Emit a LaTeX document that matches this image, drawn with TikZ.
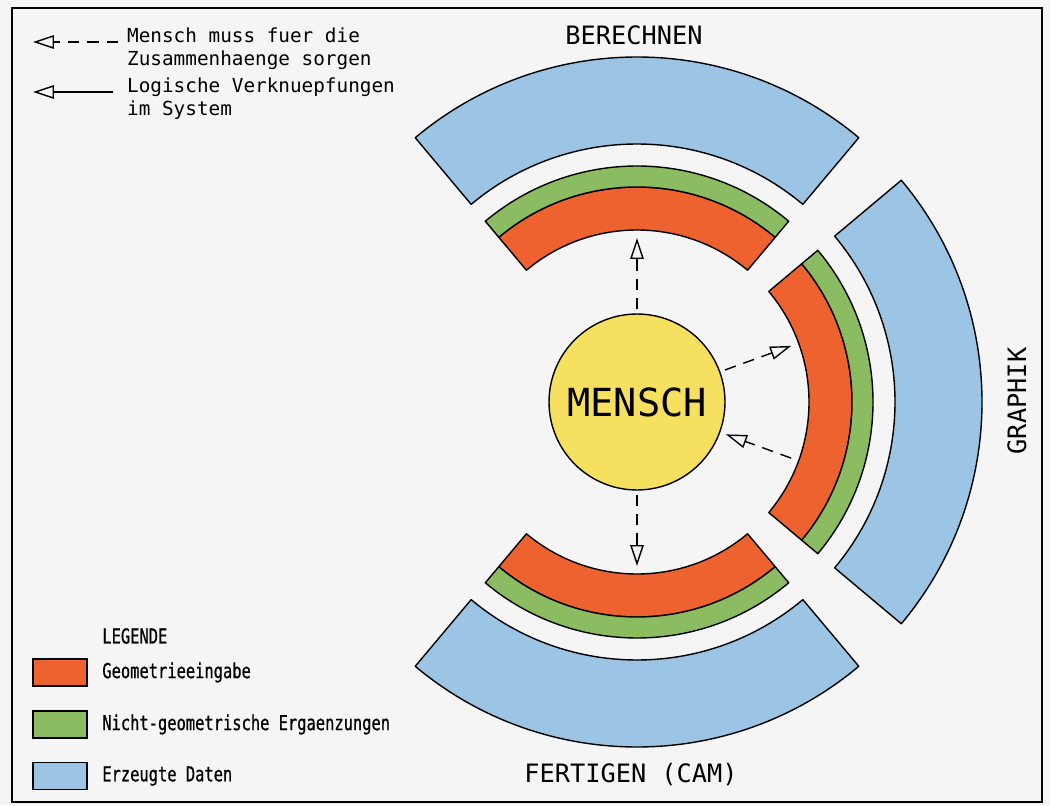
\documentclass[tikz,border=0pt]{standalone}
\usepackage{fontspec}
\setmainfont{DejaVu Sans Mono}
\newfontfamily\legfont[FakeStretch=0.75, FakeBold=0.6]{DejaVu Sans Mono}
\usetikzlibrary{arrows.meta}
\definecolor{geoC}{RGB}{238,98,48}
\definecolor{ergC}{RGB}{140,188,98}
\definecolor{datC}{RGB}{156,197,229}
\definecolor{menC}{RGB}{245,224,96}
\definecolor{paperC}{RGB}{245,245,245}
\tikzset{
  seg/.style={draw=black, line width=0.8pt, line join=round},
  flow/.style={line width=0.8pt, -{Triangle[open,length=0.42cm,width=0.27cm]}},
  hint/.style={flow, dash pattern=on 6.5pt off 4.5pt},
  legbox/.style={draw, line width=0.8pt, minimum width=1.08cm, minimum height=0.54cm, inner sep=0pt},
  legtext/.style={anchor=west, inner sep=0pt, font=\legfont\fontsize{11.7}{14}\selectfont},
  title/.style={font=\fontsize{14.4}{17}\selectfont},
  note/.style={anchor=west, align=left, font=\fontsize{11}{13}\selectfont}
}
\begin{document}
\begin{tikzpicture}[x=0.02cm,y=0.02cm]
    \fill[paperC] (0,0) rectangle (1050,805);
    \useasboundingbox (0,0) rectangle (1050,805);
    \draw[line width=1.6pt] (12,3) rectangle (1042,797);
    \begin{scope}[shift={(637,403)}]
        \foreach \a in {90,0,-90} {
            \filldraw[seg, fill=geoC] ({\a-40}:172) arc[start angle=\a-40, end angle=\a+40, radius=172]
                -- ({\a+40}:215) arc[start angle=\a+40, end angle=\a-40, radius=215] -- cycle;
            \filldraw[seg, fill=ergC] ({\a-40}:215) arc[start angle=\a-40, end angle=\a+40, radius=215]
                -- ({\a+40}:236) arc[start angle=\a+40, end angle=\a-40, radius=236] -- cycle;
            \filldraw[seg, fill=datC] ({\a-40}:258) arc[start angle=\a-40, end angle=\a+40, radius=258]
                -- ({\a+40}:345) arc[start angle=\a+40, end angle=\a-40, radius=345] -- cycle;
        }
        \node[circle, draw, line width=0.8pt, fill=menC, minimum size=3.52cm, inner sep=0pt,
            font=\fontsize{22}{24}\selectfont] (mensch) at (0,0) {MENSCH};
        \coordinate (tipN) at (90:164);
        \coordinate (tipNE) at (20:164);
        \coordinate (srcSE) at (-20:164);
        \coordinate (tipS) at (-90:164);
    \end{scope}
    \draw[hint, shorten <=0.08cm] (mensch.90) -- (tipN);
    \draw[hint, shorten <=0.1cm] (mensch.20) -- (tipNE);
    \draw[hint, shorten >=0.12cm] (srcSE) -- (mensch.-20);
    \draw[hint, shorten <=0.08cm] (mensch.-90) -- (tipS);
    \node[title] (berechnen) at (634,770) {BERECHNEN};
    \node[title, rotate=90] (graphik) at (1017,404) {GRAPHIK};
    \node[title] (fertigen) at (631,30) {FERTIGEN (CAM)};
    \coordinate (dashTip) at (33,763);
    \coordinate (dashEnd) at (118,763);
    \draw[hint] (dashEnd) -- (dashTip);
    \node[note] (hintText) at (121,756) {Mensch muss fuer die\\Zusammenhaenge sorgen};
    \coordinate (lineTip) at (33,713);
    \coordinate (lineEnd) at (113,713);
    \draw[flow] (lineEnd) -- (lineTip);
    \node[note] (logText) at (121,706) {Logische Verknuepfungen\\im System};
    \node[legtext] (legende) at (102,169) {LEGENDE};
    \node[legbox, fill=geoC] (boxGeo) at (60,132.5) {};
    \node[legtext] (txtGeo) at (102,132.5) {Geometrieeingabe};
    \node[legbox, fill=ergC] (boxErg) at (60,80.5) {};
    \node[legtext] (txtErg) at (102,80.5) {Nicht-geometrische Ergaenzungen};
    \node[legbox, fill=datC] (boxDat) at (60,29) {};
    \node[legtext] (txtDat) at (102,29) {Erzeugte Daten};
\end{tikzpicture}
\end{document}
